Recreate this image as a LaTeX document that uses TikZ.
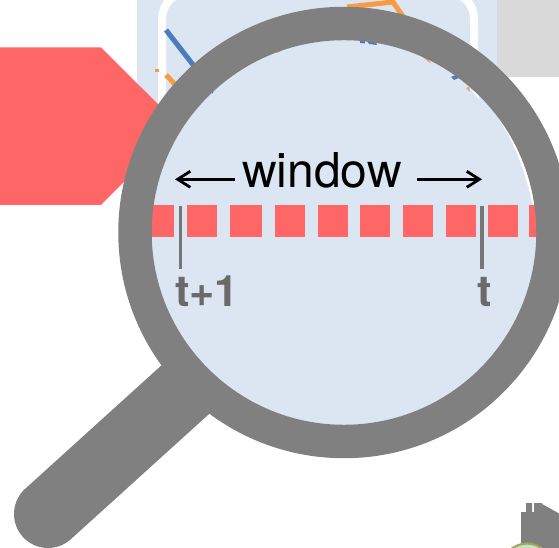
\documentclass[tikz,border=0pt]{standalone}
\usepackage{fontspec}
\setmainfont{TeX Gyre Heros}
\usetikzlibrary{arrows.meta}
\definecolor{lensblue}{HTML}{DCE6F2}
\definecolor{redbar}{HTML}{FF6666}
\definecolor{ringgray}{HTML}{808080}
\definecolor{boxgray}{HTML}{D9D9D9}
\definecolor{chartblue}{HTML}{4A7EBB}
\definecolor{chartorange}{HTML}{F79B45}
\definecolor{labelgray}{HTML}{6A6A6A}
\tikzset{
  px/.style={x=0.75pt,y=-0.75pt},
  redcell/.style={fill=redbar,draw=none},
  tickmark/.style={draw=ringgray!92!black,line width=2.3pt},
  ticklabel/.style={anchor=base,inner sep=0pt,text=labelgray,font=\fontsize{32.5}{33}\selectfont\bfseries},
  windowarrow/.style={draw=black,line width=2.1pt,-{Straight Barb[length=9.5pt,width=12pt,line width=2.1pt]}},
  chartb/.style={draw=chartblue,line width=3.8pt},
  charto/.style={draw=chartorange,line width=3.8pt}
}
\begin{document}
\begin{tikzpicture}[px]
\useasboundingbox (0,0) rectangle (559,548);
\clip (0,0) rectangle (559,548);
% background panels
\fill[boxgray] (497,-5) rectangle (565,77);
\fill[lensblue] (137,-10) rectangle (497,130);
\draw[white,line width=6pt,rounded corners=20pt] (162,-8) rectangle (474,260);
% chart
\draw[chartb] (166,30) -- (215,93);
\draw[charto] (166,75) -- (195,105);
\draw[charto] (347,7) -- (393,2) -- (404,18);
\fill[chartorange] (155,69) rectangle (159,72);
% red arrow shape
\fill[redbar] (-2,47.5) -- (101,47.5) -- (180,126) -- (101,205) -- (-2,205) -- cycle;
% handle
\draw[ringgray,line width=51pt,line cap=round] (48,514) -- (186,389);
% lens
\fill[lensblue] (344,232.5) circle[radius=192.5];
\fill[white] plot[domain=-1:37,samples=40] ({344+193*cos(\x)},{232.5-193*sin(\x)})
  -- plot[domain=37:-1,samples=40] ({344+(192.3-2.6*sin((\x+1)*180/38))*cos(\x)},{232.5-(192.3-2.6*sin((\x+1)*180/38))*sin(\x)}) -- cycle;
\fill[white] (472,91) -- (479,91) -- (479,99) -- cycle;
% bits of the chart showing at the lens rim
\fill[chartorange] (274,50) -- (282,50.5) -- (277,53) -- cycle;
\fill[chartblue] (360,41) -- (365,41) -- (365,43.5) -- (360,43) -- cycle;
\fill[chartblue] (367,41) -- (376,42) -- (377,45) -- (369,44) -- cycle;
\fill[chartorange] (421,56) -- (428,58) -- (431,63.5) -- cycle;
\fill[chartblue] (451,77) -- (456,75) -- (459,78) -- (454,80) -- cycle;
\fill[chartorange] (466,88) -- (469,87) -- (470,92) -- cycle;
\fill[chartblue] (210,88) -- (214,90) -- (212,94) -- cycle;
\fill[chartorange] (194,106) -- (198,107) -- (196,110) -- cycle;
% red cells
\fill[redcell] (150,205) rectangle (174,237);
\fill[redcell] (187,205) rectangle (217,237);
\fill[redcell] (230,205) rectangle (262,237);
\fill[redcell] (275,205) rectangle (305,237);
\fill[redcell] (318,205) rectangle (348,237);
\fill[redcell] (360,205) rectangle (390,237);
\fill[redcell] (403,205) rectangle (433,237);
\fill[redcell] (446,205) rectangle (476,237);
\fill[redcell] (488,205) rectangle (518,237);
\fill[redcell] (529,205) rectangle (538,237);
% ring
\draw[ringgray,line width=25.1pt] (344,232.5) circle[radius=209];
% ticks and labels
\coordinate (t1top) at (180.7,206);
\coordinate (t1bot) at (180.7,269.5);
\coordinate (t0top) at (482,206);
\coordinate (t0bot) at (482,269.5);
\draw[tickmark] (t1top) -- (t1bot);
\draw[tickmark] (t0top) -- (t0bot);
\node[ticklabel] (lt1) at (207,306) {t+1};
\node[ticklabel] (lt0) at (484.5,306) {t};
% window
\node[anchor=base west,inner sep=0pt,font=\fontsize{36}{36}\selectfont] (win) at (242,188) {window};
\coordinate (al0) at (235,179.3);
\coordinate (al1) at (175,179.3);
\coordinate (ar0) at (417,179.3);
\coordinate (ar1) at (482,179.3);
\draw[windowarrow] (al0) -- (al1);
\draw[windowarrow] (ar0) -- (ar1);
% building icon, bottom right
\fill[ringgray] (521,560) -- (521,512) -- (526,512) -- (526,503) -- (532,503) -- (532,512) -- (534,512) -- (534,503) -- (542,503) -- (542,504) -- (560,514) -- (560,560) -- cycle;
\filldraw[draw=black!35!yellow!70!gray,fill=green!35!gray!35!white,line width=1.6pt] (527,568.5) circle[radius=25];
\end{tikzpicture}
\end{document}
